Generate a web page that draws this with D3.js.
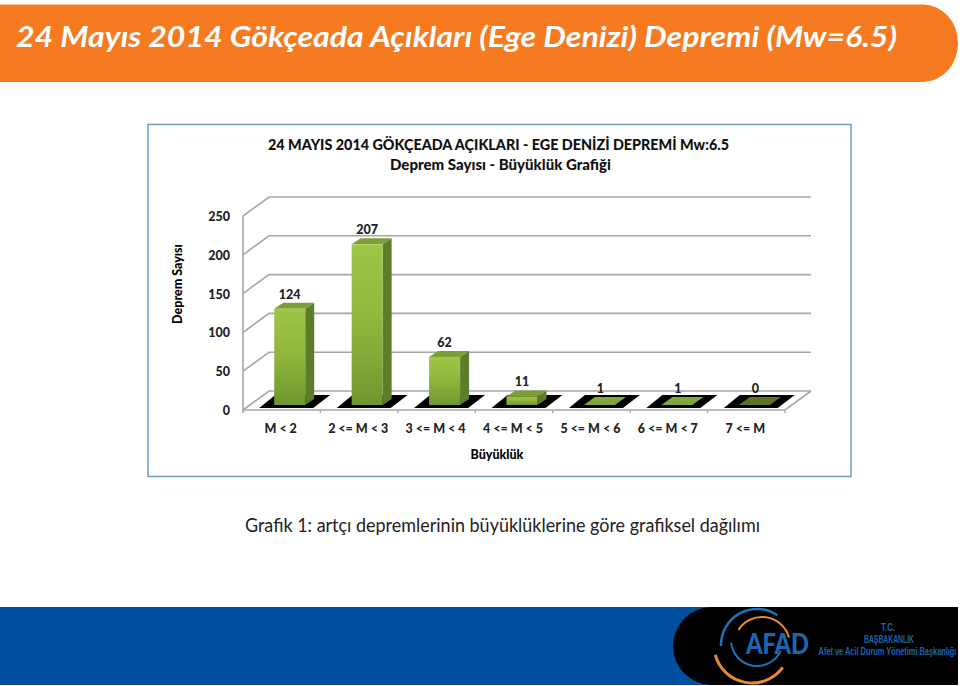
<!DOCTYPE html>
<html><head><meta charset="utf-8">
<script src="https://cdn.jsdelivr.net/npm/d3@7/dist/d3.min.js"></script>
<style>html,body{margin:0;padding:0;background:#fff;overflow:hidden}svg{display:block}text{font-family:Lato,"Open Sans",sans-serif}</style>
</head><body><svg id="c" width="960" height="686"></svg>
<script>
const categories = ["M < 2","2 <= M < 3","3 <= M < 4","4 <= M < 5","5 <= M < 6","6 <= M < 7","7 <= M"];
const counts = [124,207,62,11,1,1,0];
const yTicks = [0,50,100,150,200,250];
const pageTitle = "24 Mayıs 2014 Gökçeada Açıkları (Ege Denizi) Depremi (Mw=6.5)";
const chartTitle1 = "24 MAYIS 2014 GÖKÇEADA AÇIKLARI - EGE DENİZİ DEPREMİ Mw:6.5";
const chartTitle2 = "Deprem Sayısı - Büyüklük Grafiği";
const caption = "Grafik 1: artçı depremlerinin büyüklüklerine göre grafiksel dağılımı";
const yAxisTitle = "Deprem Sayısı", xAxisTitle = "Büyüklük";
const orgLines = ["T.C.","BAŞBAKANLIK","Afet ve Acil Durum Yönetimi Başkanlığı"];

const svg = d3.select("#c");
const defs = svg.append("defs");
const grad = (id,c)=>{const g=defs.append("linearGradient").attr("id",id).attr("x1",0).attr("y1",0).attr("x2",0).attr("y2",1);
  c.forEach((s,i)=>g.append("stop").attr("offset",i/(c.length-1)).attr("stop-color",s));};
grad("front",["#a0c646","#8fb53c","#71962f"]);

// banner
svg.append("path").attr("fill","#f57a20")
 .attr("d","M0,4.5H923A35,38.5 0 0 1 958,43A35,39 0 0 1 923,82H0Z");
svg.append("text").text(pageTitle).attr("x",16).attr("y",46.5).attr("fill","#fff").attr("font-size",29).attr("font-weight",700).attr("font-style","italic")
 .attr("textLength",881).attr("lengthAdjust","spacingAndGlyphs");

// chart frame
svg.append("rect").attr("x",148).attr("y",124.5).attr("width",703).attr("height",352).attr("fill","#fff").attr("stroke","#6f9cc4").attr("stroke-width",1.5);
const center=(t,x,y,fs,w,len)=>svg.append("text").text(t).attr("x",x).attr("y",y).attr("text-anchor","middle").attr("font-size",fs).attr("font-weight",w).attr("fill","#111")
 .attr("textLength",len).attr("lengthAdjust","spacingAndGlyphs");
center(chartTitle1,498.5,150,15.5,900,461);
center(chartTitle2,500.5,170,14.5,900,221);

// 3-D plot geometry
const F={x0:243,x1:785,y0:410,y1:216}, D={dx:26,dy:-19};
const x=d3.scaleBand().domain(categories).range([F.x0,F.x1]);
const y=d3.scaleLinear().domain([0,250]).range([F.y0,F.y1]);
const g=svg.append("g");
const gridCol="#a6a6a6";
yTicks.forEach(t=>{
  g.append("path").attr("fill","none").attr("stroke",gridCol).attr("stroke-width",1.6)
   .attr("d",`M${F.x0},${y(t)}L${F.x0+D.dx},${y(t)+D.dy}H${F.x1+D.dx}`);
});
g.append("path").attr("fill","none").attr("stroke",gridCol).attr("stroke-width",1.6)
 .attr("d",`M${F.x1+D.dx},${y(0)+D.dy}L${F.x1},${y(0)}H${F.x0}`);
g.append("line").attr("x1",F.x0).attr("x2",F.x0).attr("y1",y(250)).attr("y2",y(0)+3).attr("stroke",gridCol).attr("stroke-width",1.6);
categories.forEach(c=>{const xx=x(c)+x.bandwidth();
  g.append("line").attr("x1",xx).attr("x2",xx).attr("y1",y(0)).attr("y2",y(0)+3).attr("stroke",gridCol).attr("stroke-width",1.4);});
const tickFmt=d3.format("d");
yTicks.forEach(t=>svg.append("text").text(tickFmt(t)).attr("x",230).attr("y",y(t)+5).attr("text-anchor","end").attr("font-size",12.5).attr("font-weight",900).attr("fill","#222"));
categories.forEach(c=>svg.append("text").text(c).attr("x",x(c)+x.bandwidth()/2-1).attr("y",432.5).attr("text-anchor","middle").attr("font-size",12.5).attr("font-weight",900).attr("fill","#222"));
svg.append("text").text(xAxisTitle).attr("x",497).attr("y",459).attr("text-anchor","middle").attr("font-size",12.5).attr("font-weight",900).attr("fill","#000");
svg.append("text").text(yAxisTitle).attr("transform","translate(182,284) rotate(-90)").attr("text-anchor","middle").attr("font-size",12.5).attr("font-weight",900).attr("fill","#000");

// bars
const barW=31, bd={dx:9,dy:-6};
const poly=(pts,fill)=>g.append("polygon").attr("points",pts.map(p=>p.join(",")).join(" ")).attr("fill",fill);
categories.forEach(c=>{
  const v=counts[categories.indexOf(c)];
  const l=x(c)+x.bandwidth()/2-7.5, r=l+barW, b=y(0)-5, t=b-(y(0)-y(v));
  poly([[l-15,b+3],[r+8,b+3],[r+25,b-10],[l+1,b-10]],"#000");
  if(v>2){
    poly([[r,b],[r+bd.dx,b+bd.dy],[r+bd.dx,t+bd.dy],[r,t]],"#5d7d2a");
    poly([[l,t],[r,t],[r+bd.dx,t+bd.dy],[l+bd.dx,t+bd.dy]],"#7d9e37");
    g.append("rect").attr("x",l).attr("y",t).attr("width",barW).attr("height",b-t).attr("fill","url(#front)");
  } else {
    poly([[l,b],[r,b],[r+11,b-8],[l+11,b-8]],v===0?"#5a7429":"#83a63a");
  }
  svg.append("text").text(v).attr("x",l+barW/2+(v>2?0:1)).attr("y",(v>2?t-10:393)).attr("text-anchor","middle").attr("font-size",12.5).attr("font-weight",900).attr("fill","#222");
});

// caption
svg.append("text").text(caption).attr("x",502.5).attr("y",532).attr("text-anchor","middle").attr("font-size",18.5).attr("fill","#222").attr("textLength",515).attr("lengthAdjust","spacingAndGlyphs");

// footer
svg.append("rect").attr("x",0).attr("y",607).attr("width",958).attr("height",78).attr("fill","#00509f");
svg.append("path").attr("fill","#000").attr("d","M958,607H712A39,39 0 0 0 712,685H958Z");
const arc=(cx,cy,r,a0,a1,col,w)=>svg.append("path").attr("fill","none").attr("stroke",col).attr("stroke-width",w).attr("stroke-linecap","round")
  .attr("d",d3.arc().innerRadius(r).outerRadius(r)({startAngle:a0,endAngle:a1})).attr("transform",`translate(${cx},${cy})`);
arc(752,645,38,2.2,4.45,"#e88a2c",3);
arc(757,645,36,-1.6,0.6,"#1f72b8",2.5);
arc(762,645,28,-1.0,1.3,"#e88a2c",2);
arc(757,640,26,2.0,4.6,"#1f72b8",2);
svg.append("text").text("AFAD").attr("x",777.5).attr("y",654).attr("text-anchor","middle").attr("font-size",29).attr("font-weight",900).attr("fill","#1a66b0").attr("textLength",63).attr("lengthAdjust","spacingAndGlyphs");
[[888,631,14],[889,643,50],[887.5,655,138]].forEach((p,i)=>{
  const t=svg.append("text").text(orgLines[i]).attr("text-anchor","middle").attr("font-size",10).style("font-family","'Liberation Sans',sans-serif").attr("font-weight",700).attr("fill","#1c64ad");
  const sx=p[2]/t.node().getComputedTextLength();
  t.attr("transform",`translate(${p[0]},${p[1]}) scale(${sx},1)`);
});
</script></body></html>
